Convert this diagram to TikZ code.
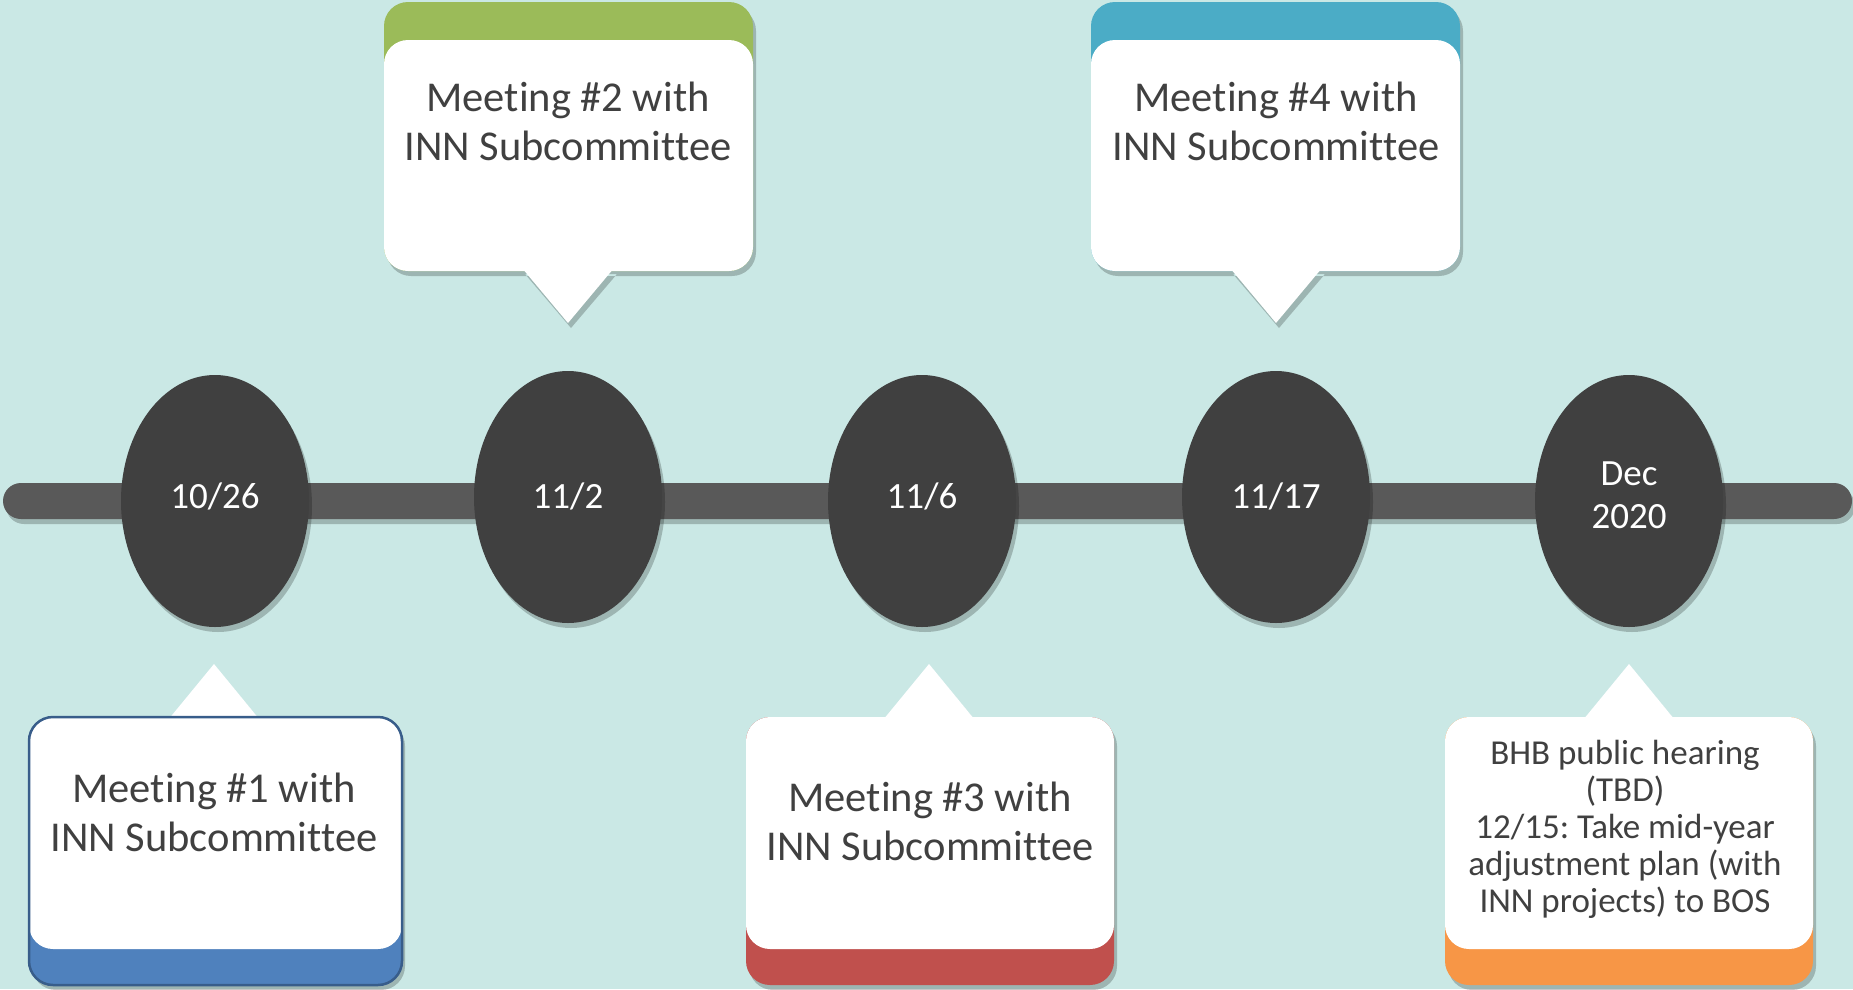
\documentclass[tikz,border=0pt]{standalone}
\usepackage{fontspec}
\setmainfont{Carlito}[Ligatures=NoCommon]
\usetikzlibrary{shapes.geometric,shadows}
\definecolor{bg}{HTML}{CAE8E5}
\definecolor{barc}{HTML}{595959}
\definecolor{dotc}{HTML}{404040}
\definecolor{txt}{HTML}{404040}
\definecolor{cblue}{HTML}{4F81BD}
\definecolor{cblueb}{HTML}{385D8A}
\definecolor{cgreen}{HTML}{9BBB59}
\definecolor{cteal}{HTML}{4BACC6}
\definecolor{cred}{HTML}{C0504D}
\definecolor{corange}{HTML}{F79646}
\begin{document}
\frenchspacing
\begin{tikzpicture}[x=1pt,y=-1pt,
  shadowfill/.style={fill=black,opacity=.22,shift={(3,5)}},
  datenode/.style={ellipse,fill=dotc,minimum width=188pt,minimum height=252pt,inner sep=0pt,
    drop shadow={shadow xshift=3pt,shadow yshift=-5pt,opacity=.22,fill=black}},
  datetxt/.style={text=white,font=\fontsize{37}{43}\selectfont,align=center,inner sep=0pt},
  bigtxt/.style={text=txt,font=\fontsize{42.5}{49}\selectfont,align=center,inner sep=0pt},
  smalltxt/.style={text=txt,font=\fontsize{35}{37}\selectfont,align=center,inner sep=0pt},
  boxr/.style={rounded corners=24pt}
]
\fill[bg] (0,0) rectangle (1853,989);
\useasboundingbox (0,0) rectangle (1853,989);

% timeline bar
\fill[shadowfill,rounded corners=18pt] (3,483) rectangle (1852,519);
\fill[barc,rounded corners=18pt] (3,483) rectangle (1852,519);

% date ellipses
\node[datenode] (e1) at (215,501) {};
\node[datenode] (e2) at (568,497) {};
\node[datenode] (e3) at (922,501) {};
\node[datenode] (e4) at (1276,497) {};
\node[datenode] (e5) at (1629,501) {};
\node[datetxt] (d1) at (215,496) {10/26};
\node[datetxt] (d2) at (568,496) {11/2};
\node[datetxt] (d3) at (922,496) {11/6};
\node[datetxt] (d4) at (1276,496) {11/17};
\node[datetxt] (d5) at (1629,495) {Dec\\2020};

% ---- callout 2 (top, green)
\fill[shadowfill] [rounded corners=24pt] (384,2) rectangle (753,271) [sharp corners] (522,269) -- (614,269) -- (568,323) -- cycle;
\fill[cgreen,boxr] (384,2) rectangle (753,271);
\fill[white,boxr] (384,40) rectangle (753,271);
\fill[white] (522,268) -- (614,268) -- (568,323) -- cycle;
\node[bigtxt] (t2) at (568,121) {Meeting \#2 with\\INN Subcommittee};

% ---- callout 4 (top, teal)
\fill[shadowfill] [rounded corners=24pt] (1091,2) rectangle (1460,271) [sharp corners] (1230,269) -- (1322,269) -- (1276,323) -- cycle;
\fill[cteal,boxr] (1091,2) rectangle (1460,271);
\fill[white,boxr] (1091,40) rectangle (1460,271);
\fill[white] (1230,268) -- (1322,268) -- (1276,323) -- cycle;
\node[bigtxt] (t4) at (1276,121) {Meeting \#4 with\\INN Subcommittee};

% ---- callout 1 (bottom, blue)
\fill[shadowfill] [rounded corners=24pt] (29,717) rectangle (402,985) [sharp corners] (168,719) -- (260,719) -- (214,664) -- cycle;
\fill[cblue,boxr] (29,717) rectangle (402,985);
\fill[white,boxr] (29,717) rectangle (402,949);
\fill[white] (168,720) -- (260,720) -- (214,664) -- cycle;
\draw[cblueb,line width=2.5pt,boxr] (29,717) rectangle (402,985);
\node[bigtxt] (t1) at (214,812) {Meeting \#1 with\\INN Subcommittee};

% ---- callout 3 (bottom, red)
\fill[shadowfill] [rounded corners=24pt] (746,717) rectangle (1114,985) [sharp corners] (883,719) -- (975,719) -- (929,664) -- cycle;
\fill[cred,boxr] (746,717) rectangle (1114,985);
\fill[white,boxr] (746,717) rectangle (1114,949);
\fill[white] (883,720) -- (975,720) -- (929,664) -- cycle;
\node[bigtxt] (t3) at (930,821) {Meeting \#3 with\\INN Subcommittee};

% ---- callout 5 (bottom, orange)
\fill[shadowfill] [rounded corners=24pt] (1445,717) rectangle (1813,985) [sharp corners] (1583,719) -- (1675,719) -- (1629,664) -- cycle;
\fill[corange,boxr] (1445,717) rectangle (1813,985);
\fill[white,boxr] (1445,717) rectangle (1813,949);
\fill[white] (1583,720) -- (1675,720) -- (1629,664) -- cycle;
\node[smalltxt] (t5) at (1625,829) {BHB public hearing\\(TBD)\\12/15: Take mid-year\\adjustment plan (with\\INN projects) to BOS};
\end{tikzpicture}
\end{document}
